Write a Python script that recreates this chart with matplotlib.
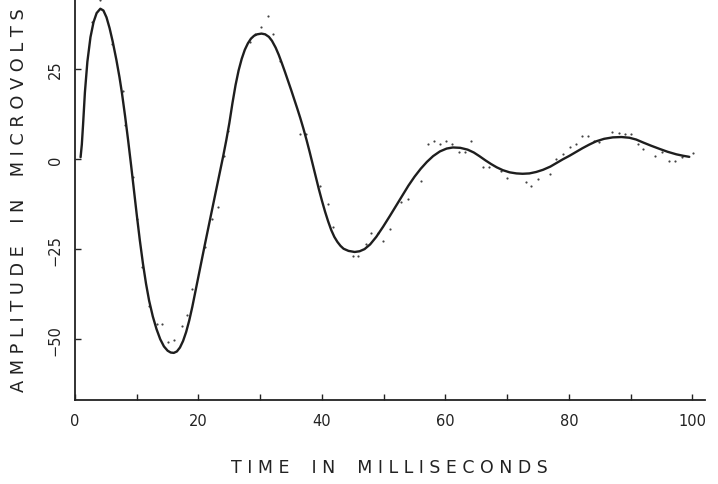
import matplotlib
matplotlib.use("Agg")
import matplotlib.pyplot as plt

# smoothed response curve (time in ms, amplitude in microvolts)
curve_t = [0.9, 1.1, 1.3, 1.6, 2.0, 2.5, 3.0, 3.5, 4.1, 4.6, 5.1, 5.6, 6.1, 6.7, 7.2,
           7.6, 8.1, 8.6, 9.1, 9.6, 10.0, 10.5, 11.0, 11.5, 12.0, 12.6, 13.2, 13.8,
           14.4, 15.0, 15.5, 16.0, 16.5, 17.0, 17.5, 18.0, 18.5, 19.0, 19.5, 20.0,
           20.5, 21.0, 21.5, 22.0, 22.5, 23.0, 23.5, 24.0, 24.5, 25.0, 25.5, 26.0,
           26.5, 27.0, 27.5, 28.0, 28.5, 29.0, 29.5, 30.2, 30.8, 31.4, 31.9, 32.5,
           33.0, 33.5, 34.0, 34.5, 35.0, 35.5, 36.0, 36.5, 37.0, 37.5, 38.0, 38.5,
           39.0, 39.5, 40.0, 40.5, 41.0, 41.5, 42.0, 42.5, 43.0, 43.5, 44.3, 45.3,
           46.1, 46.9, 47.8, 48.8, 49.9, 51.0, 52.0, 53.0, 54.0, 55.0, 56.0, 57.0,
           58.0, 59.1, 60.2, 61.2, 62.4, 63.6, 64.6, 65.5, 66.5, 67.4, 68.3, 69.3,
           70.4, 71.5, 72.5, 73.6, 74.7, 75.8, 77.0, 78.0, 79.0, 80.1, 81.2, 82.2,
           83.3, 84.4, 85.7, 87.1, 88.5, 89.8, 90.9, 92.0, 93.3, 94.7, 96.0, 97.4,
           98.5, 99.5]
curve_v = [0.5, 4.0, 9.5, 18.5, 27.0, 33.8, 38.0, 40.5, 41.7, 41.2, 39.3, 36.3, 32.6,
           27.5, 22.7, 18.3, 12.0, 5.2, -2.0, -9.5, -15.5, -22.6, -29.0, -34.6, -39.3,
           -43.7, -47.2, -50.0, -52.0, -53.2, -53.7, -53.8, -53.4, -52.3, -50.5,
           -48.0, -44.8, -41.0, -36.8, -32.5, -28.2, -24.0, -19.8, -15.7, -11.6,
           -7.5, -3.4, 0.8, 5.2, 10.0, 15.5, 20.5, 24.6, 27.8, 30.3, 32.1, 33.4,
           34.2, 34.6, 34.8, 34.6, 33.9, 32.8, 30.9, 28.9, 26.6, 24.2, 21.7, 19.2,
           16.6, 14.0, 11.3, 8.4, 5.3, 2.0, -1.5, -5.0, -8.4, -11.6, -14.6, -17.3,
           -19.7, -21.6, -23.0, -24.1, -24.9, -25.5, -25.8, -25.6, -25.0, -23.7,
           -21.6, -18.8, -15.8, -13.0, -10.2, -7.4, -4.9, -2.7, -0.8, 0.8, 2.1, 2.9,
           3.2, 3.1, 2.6, 1.8, 0.8, -0.4, -1.4, -2.3, -3.1, -3.7, -4.0, -4.1, -4.0,
           -3.6, -3.0, -2.1, -1.1, -0.1, 0.9, 2.0, 3.0, 4.0, 4.9, 5.6, 6.0, 6.1, 5.9,
           5.4, 4.6, 3.7, 2.8, 2.0, 1.3, 0.9, 0.6]

# raw sample points around the curve
pts_t = [4.05, 2.70, 5.94, 7.77, 8.09, 9.43, 9.98, 10.89, 12.02, 13.22, 14.13, 15.10,
         16.02, 17.27, 18.17, 18.88, 21.04, 22.12, 23.09, 24.11, 24.81, 28.32, 29.13,
         30.05, 31.28, 32.09, 33.17, 36.41, 37.38, 39.64, 40.99, 41.80, 45.03, 45.84,
         47.09, 48.01, 49.08, 49.89, 50.97, 52.86, 53.93, 56.10, 57.17, 58.09, 59.06,
         60.15, 61.12, 62.18, 63.11, 64.19, 66.07, 67.04, 69.05, 69.95, 73.09, 73.90,
         74.97, 76.86, 77.95, 79.01, 80.10, 81.07, 82.15, 83.06, 84.14, 84.95, 87.01,
         88.07, 89.16, 90.08, 91.15, 92.07, 94.01, 95.10, 96.17, 97.25, 98.33, 100.05]
pts_v = [44.0, 38.0, 31.9, 19.0, 9.3, -5.1, -16.7, -30.1, -40.7, -45.8, -45.8, -50.9,
         -50.2, -46.3, -43.3, -36.1, -24.5, -16.7, -13.4, 0.9, 7.9, 32.4, 34.7, 36.6,
         39.8, 34.7, 27.3, 6.9, 6.9, -7.4, -12.5, -19.0, -26.9, -26.9, -23.6, -20.4,
         -20.4, -22.7, -19.4, -12.0, -11.1, -6.0, 4.2, 5.1, 4.2, 5.1, 4.2, 1.9, 1.9,
         5.1, -2.3, -2.3, -3.2, -5.4, -6.3, -7.4, -5.6, -4.2, 0.0, 1.4, 3.2, 4.2, 6.5,
         6.5, 5.1, 4.6, 7.4, 7.2, 6.9, 6.9, 4.2, 2.8, 0.8, 1.9, -0.5, -0.5, 0.5, 1.7]

x_ticks = [0, 20, 40, 60, 80, 100]
x_minor = [10, 30, 50, 70, 90]
y_ticks = [-50, -25, 0, 25]

fig = plt.figure(figsize=(7.18, 4.85), dpi=100)
ax = fig.add_axes([0.1045, 0.173, 0.877, 0.827])

ax.plot(curve_t, curve_v, color="#1e1e1e", lw=1.7, solid_capstyle="round",
        solid_joinstyle="round")
ax.scatter(pts_t, pts_v, s=2.5, color="#444444", lw=0)

ax.set_xlim(0, 102)
ax.set_ylim(-66.9, 44.4)

for s in ["top", "right"]:
    ax.spines[s].set_visible(False)
for s in ["left", "bottom"]:
    ax.spines[s].set_color("#222222")
    ax.spines[s].set_linewidth(1.3)

ax.set_xticks(x_ticks)
ax.set_xticks(x_minor, minor=True)
ax.set_yticks(y_ticks)
ax.tick_params(axis="both", which="both", direction="in", length=4, width=1,
               colors="#222222", labelsize=10.5)
ax.tick_params(axis="x", pad=9)
ax.tick_params(axis="y", pad=9)
for lab in ax.get_yticklabels():
    lab.set_rotation(90)
    lab.set_va("center")

ax.set_xlabel("T I M E    I N    M I L L I S E C O N D S", fontsize=12.5,
              color="#222222", labelpad=22)
ax.set_ylabel("A M P L I T U D E    I N    M I C R O V O L T S", fontsize=12.8,
              color="#222222", labelpad=14)

plt.savefig("out.png", dpi=100)
